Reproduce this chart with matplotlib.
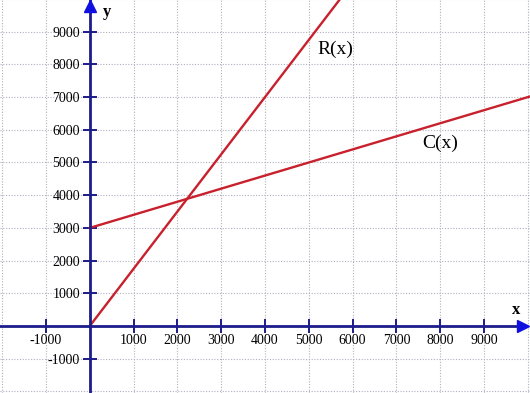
import numpy as np
import matplotlib.pyplot as plt

# Revenue and cost lines
x_vals = [0, 10100]
revenue = [0, 17675]      # R(x) = 1.75x
cost = [3000, 7040]       # C(x) = 3000 + 0.4x

x_ticks = [-1000, 1000, 2000, 3000, 4000, 5000, 6000, 7000, 8000, 9000]
y_ticks = [-1000, 1000, 2000, 3000, 4000, 5000, 6000, 7000, 8000, 9000]
grid_lines = np.arange(-2000, 10001, 1000)

AXIS_COLOR = "#1c1c8a"
ARROW_COLOR = "#1010e0"
LINE_COLOR = "#c8202c"

plt.rcParams['font.family'] = ['Liberation Serif', 'DejaVu Serif']
plt.rcParams['axes.unicode_minus'] = False

fig = plt.figure(figsize=(5.3, 3.93), dpi=100)
ax = fig.add_axes([0, 0, 1, 1])
ax.set_xlim(-2050, 10050)
ax.set_ylim(-2050, 9970)

# dotted grid
for g in grid_lines:
    ax.axvline(g, color="#b0b0c0", linestyle=(0, (1, 1.5)), linewidth=0.8, zorder=0)
    ax.axhline(g, color="#b0b0c0", linestyle=(0, (1, 1.5)), linewidth=0.8, zorder=0)

# the two lines
ax.plot(x_vals, revenue, color=LINE_COLOR, linewidth=1.7, zorder=3)
ax.plot(x_vals, cost, color=LINE_COLOR, linewidth=1.7, zorder=3)
ax.text(5600, 8450, "R(x)", fontsize=14, ha="center", va="center")
ax.text(8000, 5600, "C(x)", fontsize=14, ha="center", va="center")

# axes through origin
for side in ["top", "right"]:
    ax.spines[side].set_visible(False)
ax.spines["left"].set_position(("data", 0))
ax.spines["bottom"].set_position(("data", 0))
for side in ["left", "bottom"]:
    ax.spines[side].set_color(AXIS_COLOR)
    ax.spines[side].set_linewidth(2)
    ax.spines[side].set_zorder(4)
ax.spines["bottom"].set_bounds(-2050, 9900)

ax.set_xticks(x_ticks)
ax.set_yticks(y_ticks)
ax.tick_params(direction="inout", length=10, width=1.4, color=AXIS_COLOR,
               labelsize=10, pad=1)
ax.tick_params(axis="y", pad=2)

# arrow heads
ax.plot(0.987, 0, ">", color=ARROW_COLOR, markersize=9,
        transform=ax.get_yaxis_transform(), clip_on=False, zorder=5)
ax.plot(0, 0.985, "^", color=ARROW_COLOR, markersize=9,
        transform=ax.get_xaxis_transform(), clip_on=False, zorder=5)

ax.text(9740, 480, "x", fontsize=12, fontweight="bold", ha="center", va="center")
ax.text(390, 9600, "y", fontsize=12, fontweight="bold", ha="center", va="center")

fig.savefig("out.png", dpi=100)
